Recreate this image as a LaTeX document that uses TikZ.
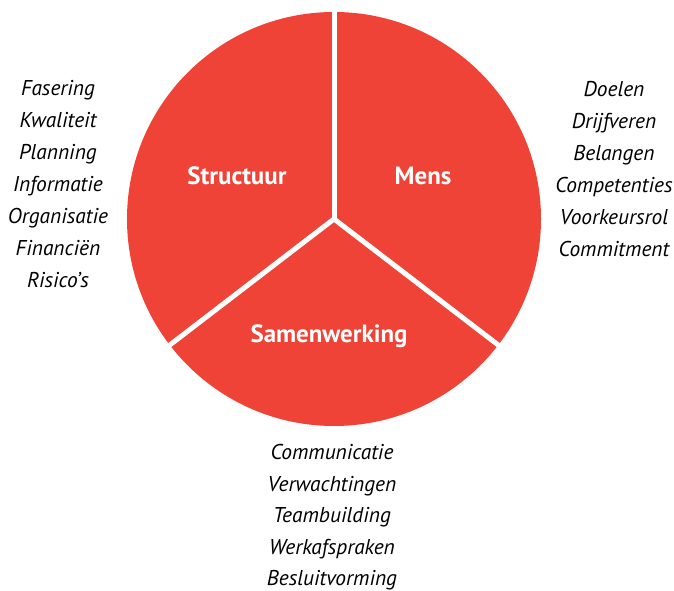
\documentclass[tikz,border=0pt]{standalone}
\usepackage{fontspec}
\setmainfont{PT Sans}
\usetikzlibrary{calc}
\definecolor{segred}{HTML}{EE4336}
\tikzset{
  item/.style={font=\fontsize{21.5}{24}\selectfont\itshape, anchor=base},
  segtitle/.style={font=\fontsize{25}{28}\selectfont\bfseries, text=white, anchor=base},
  divider/.style={white, line width=5bp}
}
\begin{document}
\begin{tikzpicture}[x=1bp, y=1bp]
    \useasboundingbox (0,0) rectangle (674,591);
    \def\r{207}

    % Circle and the three dividers
    \coordinate (c) at (334,372);
    \fill[segred] (c) circle (\r bp);
    \coordinate (top) at ($(c)+(90:\r+3)$);
    \coordinate (left) at ($(c)+(217.5:\r+3)$);
    \coordinate (right) at ($(c)+(-37.5:\r+3)$);
    \draw[divider] (c) -- (top);
    \draw[divider] (c) -- (left);
    \draw[divider] (c) -- (right);

    % Segment titles
    \node[segtitle] (structuur) at (237,406) {Structuur};
    \node[segtitle] (mens) at (423,406) {Mens};
    \node[segtitle] (samenwerking) at (329,248) {Samenwerking};

    % Lists beside the segments
    \foreach \t [count=\i from 0] in {Fasering,Kwaliteit,Planning,Informatie,Organisatie,Financiën,Risico’s}
        \node[item] (s\i) at (58,{495-32*\i}) {\t};
    \foreach \t [count=\i from 0] in {Doelen,Drijfveren,Belangen,Competenties,Voorkeursrol,Commitment}
        \node[item] (m\i) at (614,{494-32*\i}) {\t};
    \foreach \t [count=\i from 0] in {Communicatie,Verwachtingen,Teambuilding,Werkafspraken,Besluitvorming}
        \node[item] (w\i) at (332,{131-31.5*\i}) {\t};
\end{tikzpicture}
\end{document}
